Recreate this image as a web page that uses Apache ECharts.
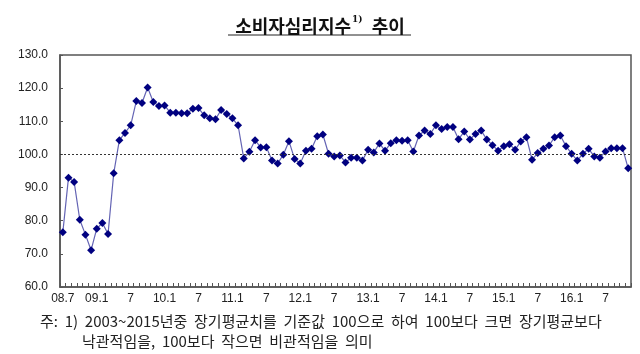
<!DOCTYPE html>
<html>
<head>
<meta charset="utf-8">
<script src="https://cdn.jsdelivr.net/npm/echarts@6/dist/echarts.min.js"></script>
<style>
  html, body { margin: 0; padding: 0; background: #fff; }
  #chart { width: 640px; height: 354px; }
</style>
</head>
<body>
<div id="chart"></div>
<script>
// 월별 카테고리 (2008.7 ~ 2016.11)
var months2008 = ['08.7','08.8','08.9','08.10','08.11','08.12'];
var months2009 = ['09.1','09.2','09.3','09.4','09.5','09.6','09.7','09.8','09.9','09.10','09.11','09.12'];
var months2010 = ['10.1','10.2','10.3','10.4','10.5','10.6','10.7','10.8','10.9','10.10','10.11','10.12'];
var months2011 = ['11.1','11.2','11.3','11.4','11.5','11.6','11.7','11.8','11.9','11.10','11.11','11.12'];
var months2012 = ['12.1','12.2','12.3','12.4','12.5','12.6','12.7','12.8','12.9','12.10','12.11','12.12'];
var months2013 = ['13.1','13.2','13.3','13.4','13.5','13.6','13.7','13.8','13.9','13.10','13.11','13.12'];
var months2014 = ['14.1','14.2','14.3','14.4','14.5','14.6','14.7','14.8','14.9','14.10','14.11','14.12'];
var months2015 = ['15.1','15.2','15.3','15.4','15.5','15.6','15.7','15.8','15.9','15.10','15.11','15.12'];
var months2016 = ['16.1','16.2','16.3','16.4','16.5','16.6','16.7','16.8','16.9','16.10','16.11'];

// 소비자심리지수 값
var csi2008 = [76.5, 93.0, 91.7, 80.3, 75.8, 71.1];
var csi2009 = [77.6, 79.3, 76.0, 94.3, 104.3, 106.5, 108.8, 116.1, 115.5, 120.2, 115.8, 114.6];
var csi2010 = [114.8, 112.6, 112.6, 112.4, 112.4, 113.8, 114.0, 111.8, 110.9, 110.6, 113.4, 112.2];
var csi2011 = [110.9, 108.8, 98.8, 100.8, 104.3, 102.1, 102.2, 98.2, 97.3, 99.9, 104.0, 98.6];
var csi2012 = [97.3, 101.1, 101.7, 105.5, 106.0, 100.2, 99.4, 99.7, 97.6, 99.0, 99.0, 98.2];
var csi2013 = [101.4, 100.6, 103.3, 101.1, 103.4, 104.3, 104.1, 104.3, 100.9, 105.7, 107.2, 106.2];
var csi2014 = [108.8, 107.7, 108.3, 108.3, 104.6, 106.9, 104.5, 106.2, 107.2, 104.5, 102.8, 101.1];
var csi2015 = [102.5, 103.1, 101.4, 103.9, 105.2, 98.4, 100.4, 101.7, 102.7, 105.2, 105.7, 102.5];
var csi2016 = [100.2, 98.2, 100.2, 101.7, 99.4, 99.0, 100.9, 101.9, 101.9, 101.9, 95.8];

// x축 눈금 라벨 (6개월 간격)
var tickLabels = ['08.7','09.1','7','10.1','7','11.1','7','12.1','7','13.1','7','14.1','7','15.1','7','16.1','7'];
// 기준값
var baseLine = 100;

var categories = [].concat(months2008, months2009, months2010, months2011, months2012,
  months2013, months2014, months2015, months2016);
var values = [].concat(csi2008, csi2009, csi2010, csi2011, csi2012,
  csi2013, csi2014, csi2015, csi2016);

var chart = echarts.init(document.getElementById('chart'));

var option = {
  backgroundColor: '#fff',
  animation: false,
  title: {
    text: '{a|소비자심리지수}{s|1)}{a|  추이}',
    left: 'center',
    top: 10,
    textStyle: {
      rich: {
        a: { fontFamily: 'Noto Sans CJK KR', fontSize: 18, fontWeight: 'bold', color: '#111', lineHeight: 22 },
        s: { fontFamily: 'DejaVu Serif', fontSize: 9, color: '#111', verticalAlign: 'top', lineHeight: 22, padding: [0, 1, 8, 1] }
      }
    }
  },
  graphic: [
    // 제목 밑줄
    { type: 'line', shape: { x1: 228, y1: 35, x2: 411, y2: 35 }, style: { stroke: '#222', lineWidth: 1 } },
    // 주석
    {
      type: 'text', left: 40, top: 314,
      style: {
        text: '주:  1)  2003~2015년중  장기평균치를  기준값  100으로  하여  100보다  크면  장기평균보다',
        font: '15px "Noto Sans CJK KR"', fill: '#222'
      }
    },
    {
      type: 'text', left: 82, top: 334,
      style: {
        text: '낙관적임을,  100보다  작으면  비관적임을  의미',
        font: '15px "Noto Sans CJK KR"', fill: '#222'
      }
    }
  ],
  grid: {
    left: 60, right: 9, top: 55, bottom: 67,
    show: true, borderColor: '#555', borderWidth: 1.5
  },
  xAxis: {
    type: 'category',
    data: categories,
    boundaryGap: true,
    axisLine: { lineStyle: { color: '#555', width: 1.5 } },
    axisTick: { show: true, inside: true, length: 4, interval: 0, lineStyle: { color: '#555' } },
    axisLabel: {
      interval: 5,
      margin: 6,
      fontFamily: 'Liberation Sans',
      fontSize: 12,
      color: '#222',
      formatter: function (v, i) { return i % 6 === 0 ? tickLabels[i / 6] : ''; }
    },
    splitLine: { show: false }
  },
  yAxis: {
    type: 'value',
    min: 60, max: 130, interval: 10,
    axisLine: { show: true, lineStyle: { color: '#555', width: 1.5 } },
    axisTick: { show: true, inside: true, length: 3, lineStyle: { color: '#555' } },
    axisLabel: {
      margin: 12,
      fontFamily: 'Liberation Sans',
      fontSize: 12,
      color: '#222',
      formatter: function (v) { return v.toFixed(1); }
    },
    splitLine: { show: false }
  },
  series: [{
    type: 'line',
    data: values,
    symbol: 'diamond',
    symbolSize: 8,
    showAllSymbol: true,
    lineStyle: { color: '#6464b4', width: 1.2 },
    itemStyle: { color: '#000080' },
    markLine: {
      silent: true,
      symbol: 'none',
      label: { show: false },
      lineStyle: { color: '#333', type: [2, 2], width: 1 },
      data: [{ yAxis: baseLine }]
    }
  }]
};

chart.setOption(option);
</script>
</body>
</html>
